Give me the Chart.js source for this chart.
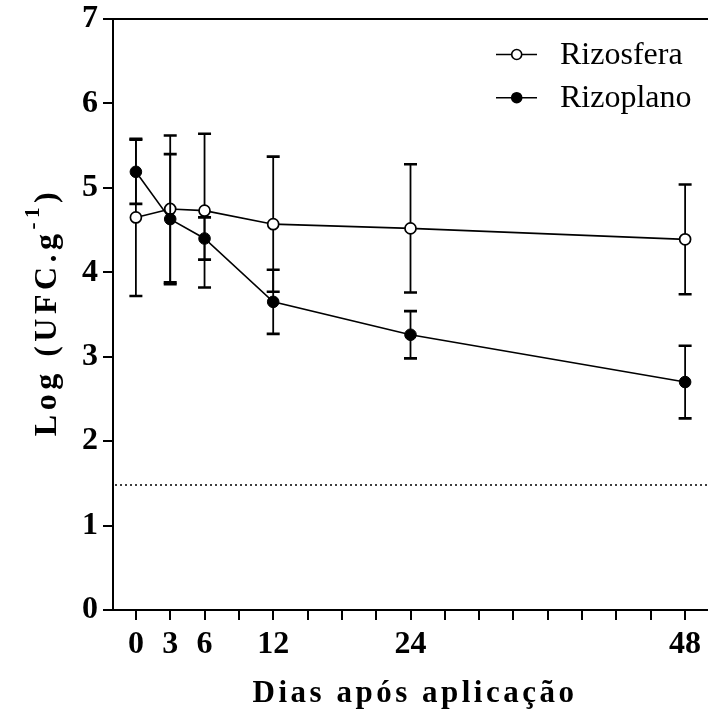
<!DOCTYPE html>
<html><head><meta charset="utf-8">
<script src="https://cdn.jsdelivr.net/npm/chart.js@4.4.1/dist/chart.umd.min.js"></script>
<style>html,body{margin:0;padding:0;background:#fff;} canvas{display:block;}</style>
</head><body>
<canvas id="c" width="708" height="709"></canvas>
<script>
// ---- data ----
const days = [0, 3, 6, 12, 24, 48];
const rizosferaMean = [4.65, 4.75, 4.73, 4.57, 4.52, 4.39];
const rizosferaSD   = [0.93, 0.87, 0.91, 0.80, 0.76, 0.65];
const rizoplanoMean = [5.19, 4.63, 4.40, 3.65, 3.26, 2.70];
const rizoplanoSD   = [0.38, 0.77, 0.25, 0.38, 0.28, 0.43];
const xTickValues = [0, 3, 6, 9, 12, 15, 18, 21, 24, 27, 30, 33, 36, 39, 42, 45, 48];
const xTickLabels = [0, 3, 6, 12, 24, 48];
const yTickValues = [0, 1, 2, 3, 4, 5, 6, 7];
const detectionLimit = 1.48;
const seriesNames = ['Rizosfera', 'Rizoplano'];
const xTitle = 'Dias após aplicação';
const yTitleMain = 'Log (UFC.g';
const yTitleSup = '-1';
const yTitleEnd = ')';

const SERIF = "'Liberation Serif','Times New Roman',serif";
Chart.defaults.color = '#000';

const toPoints = (xs, ys) => xs.map((x, i) => ({ x: x, y: ys[i] }));

const errorBars = {
  id: 'errorBars',
  beforeDatasetDraw(chart, args) {
    const ds = chart.data.datasets[args.index];
    const meta = chart.getDatasetMeta(args.index);
    const ys = chart.scales.y;
    const ctx = chart.ctx;
    ctx.save();
    ctx.strokeStyle = '#000';
    meta.data.forEach((pt, i) => {
      const m = ds.data[i].y, s = ds.sd[i];
      const yTop = ys.getPixelForValue(m + s), yBot = ys.getPixelForValue(m - s);
      const x = pt.x;
      ctx.lineWidth = 1.8;
      ctx.beginPath(); ctx.moveTo(x, yTop); ctx.lineTo(x, yBot); ctx.stroke();
      ctx.lineWidth = 2.6;
      ctx.beginPath();
      ctx.moveTo(x - 6.5, yTop); ctx.lineTo(x + 6.5, yTop);
      ctx.moveTo(x - 6.5, yBot); ctx.lineTo(x + 6.5, yBot);
      ctx.stroke();
    });
    ctx.restore();
  }
};

const decorations = {
  id: 'decorations',
  beforeDatasetsDraw(chart) {
    const ctx = chart.ctx, a = chart.chartArea, ys = chart.scales.y;
    const y = ys.getPixelForValue(detectionLimit);
    ctx.save();
    ctx.strokeStyle = '#000';
    ctx.lineWidth = 1.5;
    ctx.setLineDash([2, 3]);
    ctx.beginPath(); ctx.moveTo(a.left + 2, y); ctx.lineTo(a.right, y); ctx.stroke();
    ctx.restore();
  },
  afterDraw(chart) {
    const ctx = chart.ctx, a = chart.chartArea;
    ctx.save();
    ctx.fillStyle = '#000';
    ctx.strokeStyle = '#000';
    // top frame line
    ctx.lineWidth = 2;
    ctx.beginPath(); ctx.moveTo(a.left, a.top); ctx.lineTo(a.right, a.top); ctx.stroke();
    // x title
    ctx.font = 'bold 31px ' + SERIF;
    ctx.letterSpacing = '3.5px';
    ctx.textAlign = 'center';
    ctx.textBaseline = 'alphabetic';
    ctx.fillText(xTitle, 415, 702);
    // y title
    ctx.save();
    ctx.translate(56, 312);
    ctx.rotate(-Math.PI / 2);
    ctx.textAlign = 'left';
    ctx.letterSpacing = '4.5px';
    const parts = [
      { t: yTitleMain, f: 'bold 32px ' + SERIF, dy: 0 },
      { t: yTitleSup, f: 'bold 21px ' + SERIF, dy: -17 },
      { t: yTitleEnd, f: 'bold 32px ' + SERIF, dy: 0 }
    ];
    let total = 0;
    parts.forEach(p => { ctx.font = p.f; p.w = ctx.measureText(p.t).width; total += p.w; });
    let x = -total / 2;
    parts.forEach(p => { ctx.font = p.f; ctx.fillText(p.t, x, p.dy); x += p.w; });
    ctx.restore();
    // legend
    ctx.letterSpacing = '0px';
    ctx.font = '32px ' + SERIF;
    ctx.textAlign = 'left';
    ctx.textBaseline = 'middle';
    const rows = [54.5, 97.7];
    chart.data.datasets.forEach((ds, i) => {
      const y = rows[i];
      ctx.lineWidth = 1.6;
      ctx.strokeStyle = '#000';
      ctx.beginPath(); ctx.moveTo(496, y); ctx.lineTo(537, y); ctx.stroke();
      ctx.beginPath(); ctx.arc(516.7, y, 5, 0, Math.PI * 2);
      ctx.fillStyle = ds.pointBackgroundColor; ctx.fill();
      ctx.lineWidth = 1.6; ctx.stroke();
      ctx.fillStyle = '#000';
      ctx.fillText(ds.label, 560, y + 1);
    });
    ctx.restore();
  }
};

new Chart(document.getElementById('c'), {
  type: 'line',
  data: {
    datasets: [
      {
        label: seriesNames[0],
        data: toPoints(days, rizosferaMean),
        sd: rizosferaSD,
        order: 1,
        borderColor: '#000', borderWidth: 1.6,
        pointRadius: 5.5, pointBorderWidth: 1.7,
        pointBackgroundColor: '#fff', pointBorderColor: '#000',
        tension: 0, fill: false, clip: false
      },
      {
        label: seriesNames[1],
        data: toPoints(days, rizoplanoMean),
        sd: rizoplanoSD,
        order: 0,
        borderColor: '#000', borderWidth: 1.6,
        pointRadius: 5.8, pointBorderWidth: 1,
        pointBackgroundColor: '#000', pointBorderColor: '#000',
        tension: 0, fill: false, clip: false
      }
    ]
  },
  options: {
    responsive: false,
    animation: false,
    devicePixelRatio: 1,
    layout: { autoPadding: false, padding: { top: 19, right: 0, left: 0, bottom: 0 } },
    plugins: { legend: { display: false }, tooltip: { enabled: false } },
    scales: {
      x: {
        type: 'linear', min: -2, max: 50,
        afterBuildTicks: s => { s.ticks = xTickValues.map(v => ({ value: v })); },
        afterFit: s => { s.height = 99; s.paddingLeft = 0; s.paddingRight = 0; },
        ticks: {
          autoSkip: false, maxRotation: 0, padding: 6,
          font: { family: SERIF, size: 32, weight: 'bold' },
          color: '#000',
          callback: v => xTickLabels.includes(v) ? String(v) : ''
        },
        grid: { drawOnChartArea: false, drawTicks: true, tickLength: 10, color: '#000', lineWidth: 2 },
        border: { display: true, color: '#000', width: 2 }
      },
      y: {
        type: 'linear', min: 0, max: 7,
        afterBuildTicks: s => { s.ticks = yTickValues.map(v => ({ value: v })); },
        afterFit: s => { s.width = 113; s.paddingTop = 0; s.paddingBottom = 0; },
        ticks: {
          padding: 5,
          font: { family: SERIF, size: 32, weight: 'bold' },
          color: '#000'
        },
        grid: { drawOnChartArea: false, drawTicks: true, tickLength: 10, color: '#000', lineWidth: 2 },
        border: { display: true, color: '#000', width: 2 }
      }
    }
  },
  plugins: [errorBars, decorations]
});
</script>
</body></html>
